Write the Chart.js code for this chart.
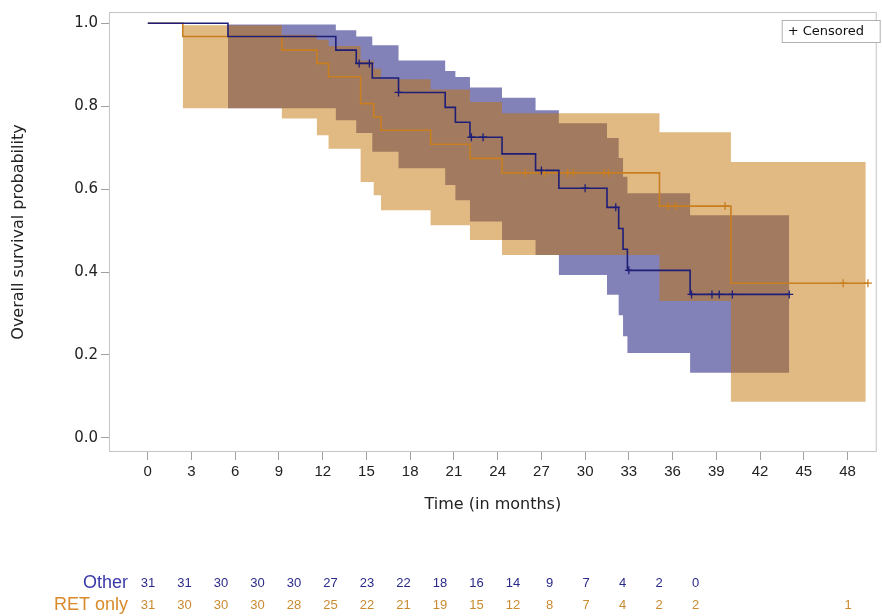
<!DOCTYPE html>
<html>
<head>
<meta charset="utf-8">
<script src="https://cdn.jsdelivr.net/npm/chart.js@4.4.0/dist/chart.umd.min.js"></script>
<style>
html,body{margin:0;padding:0;background:#fff;}
#wrap{position:relative;width:882px;height:616px;}
</style>
</head>
<body>
<div id="wrap"><canvas id="c" width="882" height="616"></canvas></div>
<script>
// ---------- data ----------
const xTicks = [0, 3, 6, 9, 12, 15, 18, 21, 24, 27, 30, 33, 36, 39, 42, 45, 48];
const yTicks = [0, 0.2, 0.4, 0.6, 0.8, 1.0];

// Other (KM step function)
const otherTimes = [0, 5.5, 12.9, 14.3, 15.4, 17.2, 20.4, 21.1, 22.1, 24.3, 26.6, 28.2, 31.5, 32.3, 32.6, 32.9, 37.2, 44.0];
const otherSurv  = [1, 0.968, 0.935, 0.903, 0.868, 0.833, 0.797, 0.761, 0.725, 0.685, 0.645, 0.602, 0.556, 0.505, 0.455, 0.404, 0.346, 0.346];
const otherBandTimes = [5.5, 12.9, 14.3, 15.4, 17.2, 20.4, 21.1, 22.1, 24.3, 26.6, 28.2, 31.5, 32.3, 32.6, 32.9, 37.2, 44.0];
const otherUpper = [0.997, 0.983, 0.968, 0.947, 0.91, 0.885, 0.87, 0.845, 0.82, 0.79, 0.759, 0.723, 0.675, 0.63, 0.59, 0.537, 0.537];
const otherLower = [0.795, 0.766, 0.735, 0.69, 0.65, 0.61, 0.573, 0.522, 0.477, 0.441, 0.393, 0.345, 0.296, 0.245, 0.205, 0.157, 0.157];
const otherCensor = [14.5, 15.2, 17.2, 22.2, 23.0, 27.0, 30.0, 32.1, 33.0, 37.3, 38.7, 39.2, 40.1, 44.0];

// RET only
const retTimes = [0, 2.4, 9.2, 11.6, 12.4, 14.6, 15.5, 16.0, 19.4, 22.1, 24.3, 35.1, 40.0, 49.4];
const retSurv  = [1, 0.968, 0.935, 0.903, 0.871, 0.806, 0.774, 0.742, 0.708, 0.674, 0.639, 0.559, 0.373, 0.373];
const retBandTimes = [2.4, 9.2, 11.6, 12.4, 14.6, 15.5, 16.0, 19.4, 22.1, 24.3, 35.1, 40.0, 49.25];
const retUpper = [0.995, 0.972, 0.96, 0.945, 0.91, 0.89, 0.865, 0.84, 0.81, 0.783, 0.737, 0.665, 0.665];
const retLower = [0.795, 0.77, 0.73, 0.697, 0.617, 0.585, 0.549, 0.513, 0.477, 0.441, 0.33, 0.087, 0.087];
const retCensor = [25.9, 27.2, 28.8, 29.2, 31.3, 31.6, 35.7, 36.2, 39.6, 47.7, 49.4];

// number at risk
const riskLabels = ['Other', 'RET only'];
const riskOther = [31, 31, 30, 30, 30, 27, 23, 22, 18, 16, 14, 9, 7, 4, 2, 0];
const riskRet   = [31, 30, 30, 30, 28, 25, 22, 21, 19, 15, 12, 8, 7, 4, 2, 2, 1];

// ---------- helpers ----------
const pts = (xs, ys) => xs.map((x, i) => ({x: x, y: ys[i]}));
function survAt(times, surv, t) {
  let v = surv[0];
  for (let i = 0; i < times.length; i++) if (times[i] <= t + 1e-9) v = surv[i];
  return v;
}
const censorPts = (cs, times, surv) => cs.map(t => ({x: t, y: survAt(times, surv, t)}));

const BLUE_LINE = '#1e1e78';
const ORANGE_LINE = '#c97f1f';
const BLUE_BAND = 'rgba(5,5,115,0.5)';
const ORANGE_BAND = 'rgba(195,115,8,0.5)';

const extras = {
  id: 'extras',
  afterDatasetsDraw(chart) {
    const {ctx, chartArea: a} = chart;
    ctx.save();
    ctx.strokeStyle = '#c4c4c4';
    ctx.lineWidth = 1;
    ctx.strokeRect(a.left + 0.5, a.top + 0.5, a.right - a.left - 1, a.bottom - a.top - 1);
    ctx.restore();
  },
  afterDraw(chart) {
    const {ctx, chartArea: a} = chart;
    ctx.save();
    // legend box
    const lx = a.right - 95, ly = a.top + 8;
    ctx.fillStyle = '#fff';
    ctx.fillRect(lx, ly, 98, 22);
    ctx.strokeStyle = '#b0b0b0';
    ctx.lineWidth = 1;
    ctx.strokeRect(lx + 0.5, ly + 0.5, 98, 22);
    ctx.fillStyle = '#111';
    ctx.font = "13px 'DejaVu Sans', sans-serif";
    ctx.textBaseline = 'middle';
    ctx.textAlign = 'left';
    ctx.fillText('+ Censored', lx + 6, ly + 12);

    // risk table
    const labelRight = 128;
    const col0 = 148, step = 36.5, lastX = 848;
    const rows = [
      {label: riskLabels[0], vals: riskOther, y: 583, lc: '#3a3aa8', nc: '#2a2a8a'},
      {label: riskLabels[1], vals: riskRet, y: 605, lc: '#d98a2a', nc: '#c98a30'}
    ];
    rows.forEach(r => {
      ctx.font = "18px 'Liberation Sans', sans-serif";
      ctx.fillStyle = r.lc;
      ctx.textAlign = 'right';
      ctx.fillText(r.label, labelRight, r.y);
      ctx.font = "13px 'Liberation Sans', sans-serif";
      ctx.fillStyle = r.nc;
      ctx.textAlign = 'center';
      r.vals.forEach((v, i) => {
        const x = i < 16 ? col0 + i * step : lastX;
        ctx.fillText(String(v), x, r.y);
      });
    });
    ctx.restore();
  }
};

new Chart(document.getElementById('c'), {
  type: 'line',
  data: {
    datasets: [
      {label: 'otherUpper', data: pts(otherBandTimes, otherUpper), stepped: 'before', borderWidth: 0, pointRadius: 0,
       backgroundColor: BLUE_BAND, fill: '+1', order: 10},
      {label: 'otherLower', data: pts(otherBandTimes, otherLower), stepped: 'before', borderWidth: 0, pointRadius: 0,
       fill: false, order: 10},
      {label: 'retUpper', data: pts(retBandTimes, retUpper), stepped: 'before', borderWidth: 0, pointRadius: 0,
       backgroundColor: ORANGE_BAND, fill: '+1', order: 8},
      {label: 'retLower', data: pts(retBandTimes, retLower), stepped: 'before', borderWidth: 0, pointRadius: 0,
       fill: false, order: 8},
      {label: 'RET only', data: pts(retTimes, retSurv), stepped: 'before', borderColor: ORANGE_LINE, borderWidth: 1.6,
       pointRadius: 0, fill: false, order: 4},
      {label: 'Other', data: pts(otherTimes, otherSurv), stepped: 'before', borderColor: BLUE_LINE, borderWidth: 1.6,
       pointRadius: 0, fill: false, order: 3},
      {label: 'RET censored', data: censorPts(retCensor, retTimes, retSurv), showLine: false, pointStyle: 'cross',
       pointRadius: 4, borderColor: ORANGE_LINE, borderWidth: 1.3, order: 2},
      {label: 'Other censored', data: censorPts(otherCensor, otherTimes, otherSurv), showLine: false, pointStyle: 'cross',
       pointRadius: 4, borderColor: BLUE_LINE, borderWidth: 1.3, order: 1}
    ]
  },
  options: {
    responsive: false,
    animation: false,
    devicePixelRatio: 1,
    layout: {padding: {left: 0, right: 0, top: 12, bottom: 94}},
    plugins: {legend: {display: false}, tooltip: {enabled: false}},
    elements: {line: {tension: 0}},
    scales: {
      x: {
        type: 'linear', min: -2.66, max: 50,
        afterBuildTicks: s => { s.ticks = xTicks.map(v => ({value: v})); },
        afterFit: s => { s.height = 70; },
        ticks: {callback: v => String(v), color: '#222', padding: 3, maxRotation: 0,
                font: {family: "'Liberation Sans', sans-serif", size: 15}},
        grid: {drawOnChartArea: false, drawTicks: true, tickLength: 8, color: '#a0a0a0'},
        border: {display: false},
        title: {display: true, text: 'Time (in months)', color: '#222', padding: {top: 0, bottom: 8},
                font: {family: "'DejaVu Sans', sans-serif", size: 16}}
      },
      y: {
        type: 'linear', min: -0.034, max: 1.027,
        afterBuildTicks: s => { s.ticks = yTicks.map(v => ({value: v})); },
        afterFit: s => { s.width = 109; },
        ticks: {callback: v => Number(v).toFixed(1), color: '#222', padding: 3,
                font: {family: "'DejaVu Sans', sans-serif", size: 15}},
        grid: {drawOnChartArea: false, drawTicks: true, tickLength: 8, color: '#a0a0a0'},
        border: {display: false},
        title: {display: true, text: 'Overall survival probability', color: '#222', padding: {top: 9, bottom: 0},
                font: {family: "'DejaVu Sans', sans-serif", size: 16}}
      }
    }
  },
  plugins: [extras]
});
</script>
</body>
</html>
